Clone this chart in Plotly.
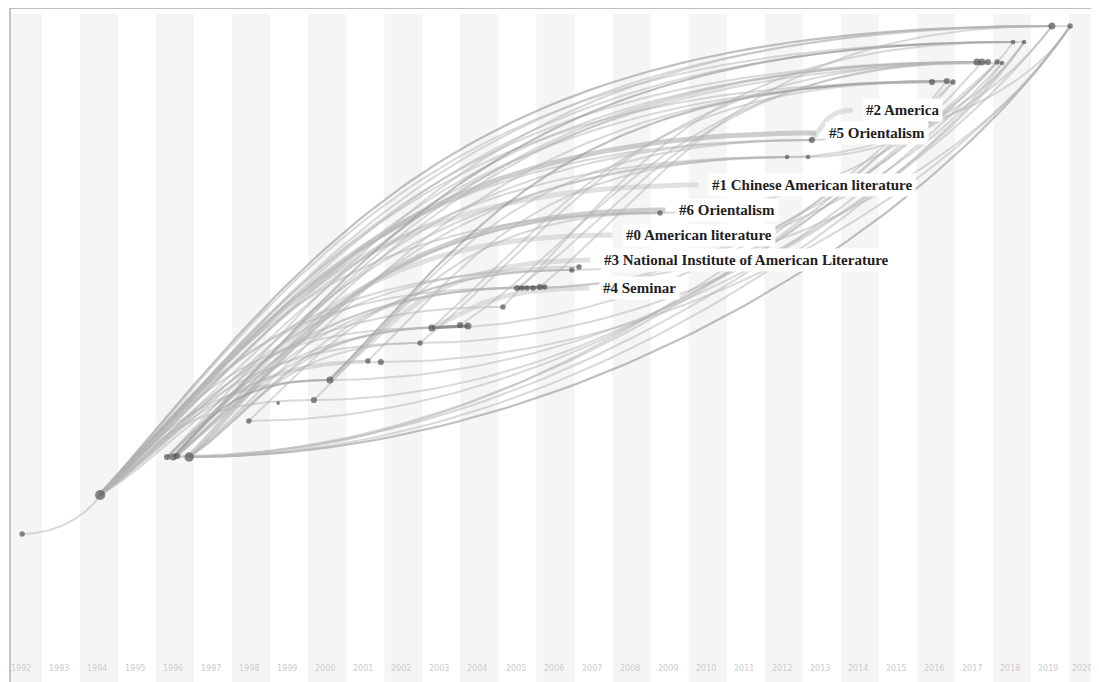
import plotly.graph_objects as go
import numpy as np

# ---------------- data ----------------
tick_years = list(range(1992, 2021))
tick_labels = [str(y) for y in tick_years]

# nodes: publication year (x) and timeline height (layout units, 0 = bottom)
node_year = [1992.03, 1994.08, 1995.84, 1996.00, 1996.10, 1996.42, 1997.99, 1998.76,
             1999.70, 2000.12, 2001.12, 2001.46, 2002.49, 2002.80, 2003.54, 2003.75,
             2004.67, 2005.04, 2005.17, 2005.30, 2005.46, 2005.64, 2005.77, 2006.48,
             2006.67, 2008.80, 2012.14, 2012.69, 2012.79, 2015.95, 2016.34, 2016.50,
             2017.13, 2017.26, 2017.42, 2017.66, 2017.79, 2018.08, 2018.37, 2019.10,
             2019.58]
node_height = [148, 187, 225, 225, 226, 225, 261, 279, 282, 302, 321, 320, 339, 354,
               357, 356, 375, 394, 394, 394, 394, 395, 395, 412, 415, 469, 525, 525,
               542, 600, 601, 600, 620, 620, 620, 620, 619, 640, 640, 656, 656]
node_citations = [3, 9, 4, 5, 4, 8, 3, 1, 4, 5, 3, 4, 3, 5, 4, 5, 3, 4, 3, 3, 3, 4, 3,
                  3, 3, 3, 2, 2, 4, 4, 4, 3, 5, 5, 4, 3, 2, 2, 2, 5, 3]

# links: source node, target node, curvature (+ arcs over, - arcs under)
link_source = [1, 1, 1, 1, 1, 1, 1, 1, 1, 1, 1, 1, 1, 1, 1, 1, 1, 1, 1, 1, 1, 1, 1, 1,
               2, 3, 4, 5, 2, 3, 4, 5, 2, 3, 4, 5, 2, 3, 5, 2,
               9, 9, 13, 12, 16, 17, 10, 8, 6, 14, 21,
               0, 5, 5, 4, 5, 3, 6, 9, 11, 8, 12, 17, 26, 28, 25, 27, 23, 20, 13,
               13, 17]
link_target = [39, 40, 37, 38, 32, 34, 36, 29, 31, 28, 26, 27, 25, 23, 24, 17, 21, 16, 13, 15, 12, 9, 8, 11,
               39, 37, 33, 30, 28, 26, 25, 23, 21, 19, 15, 12, 10, 9, 13, 32,
               30, 28, 29, 32, 37, 33, 26, 25, 23, 34, 39,
               1, 40, 38, 36, 31, 35, 30, 39, 40, 33, 38, 40, 38, 40, 37, 39, 36, 35, 31,
               15, 22]
link_curve = [0.60, 0.56, 0.58, 0.52, 0.54, 0.48, 0.44, 0.54, 0.48, 0.52, 0.48, 0.40, 0.52, 0.54, 0.40, 0.54, 0.36, 0.45, 0.50, 0.32, 0.42, 0.46, 0.55, 0.36,
              0.55, 0.52, 0.48, 0.44, 0.48, 0.40, 0.45, 0.36, 0.50, 0.40, 0.45, 0.36, 0.50, 0.55, 0.28, 0.48,
              0.55, 0.50, 0.45, 0.40, 0.50, 0.36, 0.50, 0.45, 0.50, 0.32, 0.40,
              -0.5, -0.45, -0.4, -0.35, -0.3, -0.3, -0.4, -0.4, -0.45, -0.35, -0.45, -0.5, -0.5, -0.55, -0.45, -0.4, -0.45, -0.35, -0.4,
              0.05, 0.05]
link_strength = [2, 1, 1, 1, 1, 1, 1, 1, 1, 1, 1, 1, 1, 1, 1, 1, 1, 1, 1, 1, 1, 1, 1, 1,
                 1, 2, 1, 1, 1, 1, 1, 1, 1, 1, 1, 1, 1, 2, 1, 1,
                 2, 1, 1, 1, 1, 1, 1, 1, 1, 1, 1,
                 1, 2, 1, 1, 1, 1, 1, 1, 1, 1, 1, 1, 1, 1, 1, 1, 1, 1, 1,
                 3, 3]

# cluster labels: label text, label anchor (year, height), thread start node
cluster_label = ["#2 America", "#5 Orientalism", "#1 Chinese American literature",
                 "#6 Orientalism", "#0 American literature",
                 "#3 National Institute of American Literature", "#4 Seminar"]
cluster_year = [2014.11, 2013.14, 2010.06, 2009.19, 2007.80, 2007.22, 2007.19]
cluster_height = [572, 549, 497, 472, 447, 422, 394]
cluster_source = [28, 1, 1, 5, 3, 9, 13]
cluster_strength = [1, 3, 1, 3, 1, 1, 1]

# ---------------- geometry helpers ----------------
XMIN = 1991.711
PXY = 38.04
PLOT_W = 1089
PLOT_H = 674


def to_px(y):
    return (y - XMIN) * PXY


def from_px(p):
    return XMIN + np.asarray(p) / PXY


def curve(x0, v0, x1, v1, b, n=70):
    p0 = np.array([to_px(x0), v0])
    p3 = np.array([to_px(x1), v1])
    dx, dv = p3 - p0
    if b >= 0:
        c1 = np.array([p0[0] + 0.25 * dx, v0 + b * dv])
        c2 = np.array([p0[0] + 0.40 * dx, v1])
    else:
        c1 = np.array([p0[0] + 0.45 * dx, v0])
        c2 = np.array([p3[0] - 0.15 * dx, v1 + b * dv])
    t = np.linspace(0, 1, n)[:, None]
    pts = ((1 - t) ** 3) * p0 + 3 * ((1 - t) ** 2) * t * c1 + 3 * (1 - t) * t ** 2 * c2 + t ** 3 * p3
    return from_px(pts[:, 0]), pts[:, 1]


fig = go.Figure()

# alternating year bands
shapes = []
for yr in tick_years:
    if yr % 2 == 0:
        shapes.append(dict(type="rect", xref="x", yref="y", x0=yr - 0.45, x1=yr + 0.55,
                           y0=0, y1=668, fillcolor="#f5f5f5", line=dict(width=0), layer="below"))
shapes.append(dict(type="line", xref="paper", yref="paper", x0=0, x1=1, y0=1, y1=1,
                   line=dict(color="#a8a8a8", width=1.5)))
shapes.append(dict(type="line", xref="paper", yref="paper", x0=0, x1=0, y0=0, y1=1,
                   line=dict(color="#b0b0b0", width=1.5)))

line_style = {1: ("rgba(180,180,180,0.5)", 2.0),
              2: ("rgba(150,150,150,0.6)", 2.2),
              3: ("rgba(120,120,120,0.7)", 3.0)}

# cluster threads (wide, pale)
for lab, cy, ch, cs, st in zip(cluster_label, cluster_year, cluster_height, cluster_source, cluster_strength):
    end_year = cy - 0.25
    xs, ys = curve(node_year[cs], node_height[cs], end_year, ch, 0.5)
    col = "rgba(165,165,165,0.55)" if st == 3 else "rgba(200,200,200,0.55)"
    fig.add_trace(go.Scatter(x=xs, y=ys, mode="lines", line=dict(color=col, width=5),
                             hoverinfo="skip", showlegend=False))

for s, t, c, st in zip(link_source, link_target, link_curve, link_strength):
    xs, ys = curve(node_year[s], node_height[s], node_year[t], node_height[t], c)
    col, w = line_style[st]
    fig.add_trace(go.Scatter(x=xs, y=ys, mode="lines", line=dict(color=col, width=w),
                             hoverinfo="skip", showlegend=False))

# nodes
fig.add_trace(go.Scatter(x=node_year, y=node_height, mode="markers",
                         marker=dict(size=[3 + 0.8 * c for c in node_citations], color="#555555",
                                     symbol="circle", line=dict(width=0)),
                         hoverinfo="skip", showlegend=False))

annotations = []
for i, (yr, lab) in enumerate(zip(tick_years, tick_labels)):
    last = i == len(tick_years) - 1
    annotations.append(dict(x=yr, y=14, xref="x", yref="y", text=lab, showarrow=False,
                            xanchor="center", xshift=-4 if last else 0,
                            font=dict(family="DejaVu Sans", size=8, color="#cccccc")))
for lab, cy, ch in zip(cluster_label, cluster_year, cluster_height):
    annotations.append(dict(x=cy, y=ch, xref="x", yref="y", text="<b>" + lab + "</b>",
                            showarrow=False, xanchor="left", yanchor="middle",
                            font=dict(family="Liberation Serif", size=15, color="#1e1e1e"),
                            bgcolor="white", borderpad=3))

fig.update_layout(
    width=1091, height=674,
    margin=dict(l=2, r=0, t=0, b=0),
    paper_bgcolor="white", plot_bgcolor="white",
    shapes=shapes, annotations=annotations,
    xaxis=dict(range=[XMIN, XMIN + PLOT_W / PXY], showgrid=False, zeroline=False,
               showticklabels=False, ticks="", fixedrange=True),
    yaxis=dict(range=[0, PLOT_H], showgrid=False, zeroline=False,
               showticklabels=False, ticks="", fixedrange=True),
)

fig.write_html("out.html")
